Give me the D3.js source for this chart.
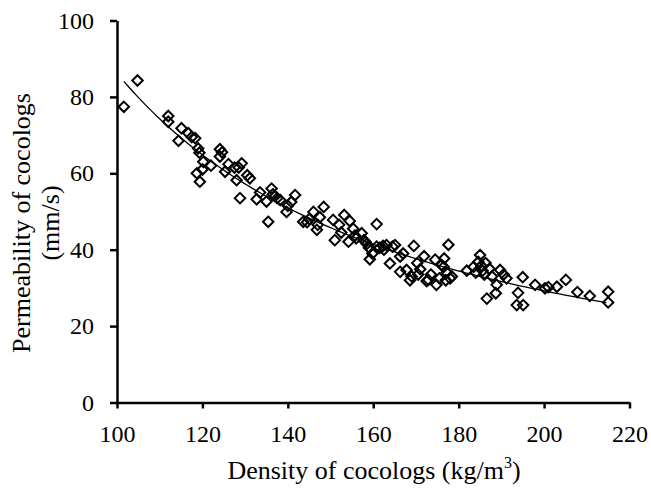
<!DOCTYPE html>
<html>
<head>
<meta charset="utf-8">
<script src="https://cdn.jsdelivr.net/npm/d3@7"></script>
<style>
  body { margin: 0; background: #fff; }
  text { font-family: "Liberation Serif", "Times New Roman", serif; fill: #000; }
</style>
</head>
<body>
<div id="chart"></div>
<script>
// density (kg/m3) vs permeability (mm/s)
var density = [101.6, 104.8, 112, 112, 114.4, 115.1, 116.7, 117.5, 118.3, 119, 119.3, 120.2, 118.7, 119.4, 120,
  124.1, 124.1, 124.6, 126.1, 125.3, 127.5, 128, 128.8, 129.2, 128.5, 131.1, 132.7, 133.5, 135, 136.2, 135.4,
  136.5, 137.5, 138.2, 139.7, 140, 140.8, 141.7, 143.6, 144.5, 145, 146, 146.8, 147.5, 148.4, 150.6, 151, 152,
  153.2, 154.2, 154.5, 155.3, 156, 157.3, 158.2, 159, 159.2, 159.8, 160.8, 160.8, 161.5, 162.3, 163.1, 163.9,
  165.1, 166.3, 166.3, 167, 167.8, 168.6, 169.5, 170.3, 171, 171.9, 172.9, 173.5, 174.5, 174.8, 176, 176.6,
  177.2, 177.6, 178, 178.4, 181.9, 183.5, 184, 185, 185.3, 185.6, 186, 186.6, 187.2, 187.8, 188.7, 188.9,
  189.7, 190.5, 191.2, 193.6, 193.9, 195, 195.1, 197.9, 200.2, 201, 203, 205.1, 207.8, 210.7, 215, 215,
  157.8, 158.5, 164.5, 176.5, 177, 172.5, 169, 186.3, 184.6, 170.5, 175.5, 122, 130.5, 137, 147, 152.5, 162.5, 155.7]
var permeability = [77.4, 84.3, 75, 73.5, 68.5, 71.8, 70.5, 69.5, 69.2, 66.5, 65.4, 63, 60, 57.8, 61,
  66.3, 64.4, 65.5, 62.4, 60.4, 61.5, 58.2, 53.5, 62.6, 61.5, 58.7, 53.2, 55, 52.6, 56, 47.3,
  54.5, 53.5, 53, 49.9, 51.5, 52.5, 54.3, 47.3, 47.2, 48, 49.9, 45.2, 48.5, 51.2, 47.8, 42.5, 46.5,
  49.1, 42.1, 47.5, 45.5, 43, 44.3, 42, 40.5, 37.5, 39, 40.8, 46.7, 40.5, 41, 41.2, 36.4,
  41.2, 38.2, 34.2, 39, 34.7, 32, 41, 36.5, 34.9, 38.3, 32.1, 33.5, 37.4, 30.8, 36, 37.7,
  34, 41.3, 32.5, 33, 34.5, 35.5, 34, 38.6, 35.8, 34.5, 33.5, 27.2, 35, 33, 28.6, 30.8,
  34.7, 33.5, 32.5, 25.5, 28.7, 32.8, 25.5, 30.8, 29.9, 30.2, 30.3, 32.1, 28.9, 27.9, 29, 26.2,
  42.5, 41.5, 40.8, 35.5, 32, 31.8, 33, 36.5, 36.8, 33.5, 32.5, 62, 59.5, 54, 46.5, 44.5, 40, 43.7]

var xTicks = [100, 120, 140, 160, 180, 200, 220]
var yTicks = [0, 20, 40, 60, 80, 100]

var width = 651, height = 488
var svg = d3.select('#chart').append('svg').attr('width', width).attr('height', height)

var x = d3.scaleLinear().domain([100, 220]).range([117, 629.5])
var y = d3.scaleLinear().domain([0, 100]).range([402.5, 20.5])

var points = density.map(function (d, i) { return {x: d, y: permeability[i]} })

// power trendline, least squares on logs (like excel)
var lx = points.map(function (p) { return Math.log(p.x) })
var ly = points.map(function (p) { return Math.log(p.y) })
var mx = d3.mean(lx), my = d3.mean(ly)
var b = d3.sum(lx, function (v, i) { return (v - mx) * (ly[i] - my) }) / d3.sum(lx, function (v) { return (v - mx) * (v - mx) })
var a = Math.exp(my - b * mx)
var ext = d3.extent(density)
var trend = d3.range(ext[0], ext[1] + 0.5, 1).map(function (v) { return {x: v, y: a * Math.pow(v, b)} })

var xAxis = svg.append('g').attr('transform', 'translate(0,' + y(0) + ')')
  .call(d3.axisBottom(x).tickValues(xTicks).tickSize(6).tickSizeOuter(0).tickPadding(16))
var yAxis = svg.append('g').attr('transform', 'translate(' + x(100) + ',0)')
  .call(d3.axisLeft(y).tickValues(yTicks).tickSize(7).tickSizeOuter(0).tickPadding(16))

svg.selectAll('.domain, .tick line').attr('stroke', '#000').attr('stroke-width', 2.5)
svg.selectAll('.tick text').attr('font-size', 24).attr('font-family', '"Liberation Serif", serif')

var diamond = d3.symbol().type(d3.symbolDiamond2).size(70)
svg.append('g').selectAll('path').data(points).join('path')
  .attr('d', diamond)
  .attr('transform', function (d) { return 'translate(' + x(d.x) + ',' + y(d.y) + ')' })
  .attr('fill', 'none').attr('stroke', '#000').attr('stroke-width', 2)

svg.append('path').datum(trend)
  .attr('d', d3.line().x(function (d) { return x(d.x) }).y(function (d) { return y(d.y) }))
  .attr('fill', 'none').attr('stroke', '#000').attr('stroke-width', 1.3)

// axis titles
var xl = svg.append('text').attr('x', 374).attr('y', 479).attr('text-anchor', 'middle').attr('font-size', 26)
xl.append('tspan').text('Density of cocologs (kg/m')
xl.append('tspan').attr('font-size', 16).attr('dy', -11).text('3')
xl.append('tspan').attr('dy', 11).text(')')

var yl = svg.append('text').attr('transform', 'translate(30,223) rotate(-90)').attr('text-anchor', 'middle').attr('font-size', 26)
yl.append('tspan').attr('x', 0).attr('y', 0).text('Permeability of cocologs')
yl.append('tspan').attr('x', 0).attr('y', 29).text('(mm/s)')
</script>
</body>
</html>
